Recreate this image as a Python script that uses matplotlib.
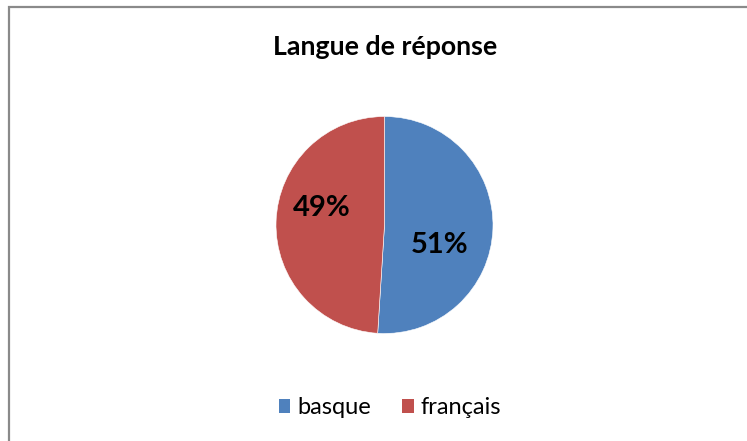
import matplotlib
matplotlib.use("Agg")
import matplotlib.pyplot as plt
from matplotlib.patches import Patch, Rectangle

title = "Langue de réponse"
categories = ["basque", "français"]
values = [51, 49]
colors = ["#4F81BD", "#C0504D"]
label_pos = [(0.51, -0.18), (-0.58, 0.16)]

W, H = 747, 441
fig = plt.figure(figsize=(W / 100, H / 100), dpi=100)
fig.patch.set_facecolor("white")

# chart border
fig.patches.append(Rectangle((8.5 / W, -0.05), 1.1, (H - 6.5) / H + 0.05,
                             transform=fig.transFigure, fill=False,
                             edgecolor="#8A8A8A", linewidth=1.6))

cx, cy, r = 384.5, 225, 108.5
ax = fig.add_axes([(cx - r) / W, (H - cy - r) / H, 2 * r / W, 2 * r / H])
wedges, texts, autotexts = ax.pie(values, colors=colors, startangle=90,
                                  counterclock=False, autopct="%1.0f%%",
                                  wedgeprops=dict(edgecolor="white", linewidth=0.4),
                                  textprops=dict(fontsize=21, family="Lato",
                                                 fontweight="bold", color="black"))
for t, p in zip(autotexts, label_pos):
    t.set_position(p)
ax.set_xlim(-1, 1)
ax.set_ylim(-1, 1)
ax.set_aspect("equal")
ax.axis("off")

fig.text(385 / W, 1 - 47 / H, title, ha="center", va="center",
         fontsize=19.3, fontweight="bold", family="Lato")

handles = [Patch(facecolor=c, edgecolor="none") for c in colors]
fig.legend(handles, categories, loc="center", bbox_to_anchor=(390 / W, 1 - 408 / H),
           ncol=2, frameon=False, prop=dict(family="Lato", size=17),
           handlelength=0.5, handleheight=0.5, handletextpad=0.3,
           columnspacing=1.3)

fig.savefig("out.png", dpi=100)
